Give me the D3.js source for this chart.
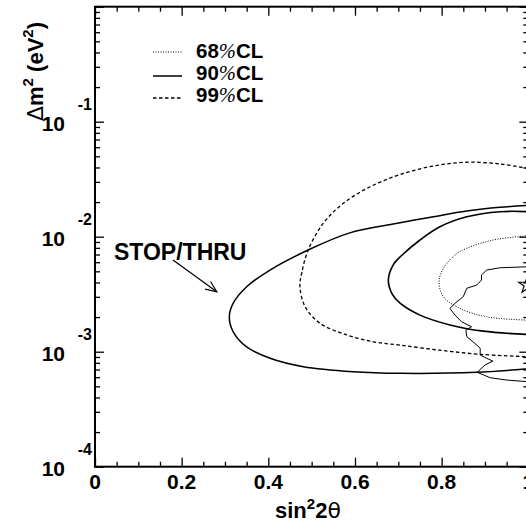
<!DOCTYPE html>
<html><head><meta charset="utf-8">
<script src="https://cdn.jsdelivr.net/npm/d3@7"></script>
<style>body{margin:0;background:#fff}svg{display:block}</style>
</head><body>
<script>
// ---- data (sin^2 2θ, Δm^2 [eV^2]) ----
const stopThru90 = [[1.0,1.87e-2],[0.935,1.80e-2],[0.858,1.67e-2],[0.781,1.49e-2],[0.704,1.32e-2],[0.588,1.08e-2],[0.492,7.66e-3],[0.404,5.13e-3],[0.350,3.67e-3],[0.319,2.64e-3],[0.310,2.01e-3],[0.319,1.49e-3],[0.350,1.10e-3],[0.404,8.77e-4],[0.481,7.41e-4],[0.596,6.70e-4],[0.704,6.49e-4],[0.881,6.62e-4],[0.992,7.07e-4],[1.0,7.1e-4]];
const cl99 = [[1.0,3.91e-2],[0.935,4.29e-2],[0.858,4.44e-2],[0.781,4.12e-2],[0.704,3.47e-2],[0.635,2.72e-2],[0.573,1.95e-2],[0.527,1.31e-2],[0.492,7.66e-3],[0.477,4.81e-3],[0.473,3.67e-3],[0.485,2.46e-3],[0.519,1.77e-3],[0.581,1.40e-3],[0.642,1.22e-3],[0.704,1.14e-3],[0.796,1.03e-3],[0.889,9.49e-4],[0.992,9.05e-4],[1.0,9.0e-4]];
const cl90 = [[1.0,1.65e-2],[0.935,1.65e-2],[0.858,1.49e-2],[0.796,1.22e-2],[0.750,9.36e-3],[0.709,6.93e-3],[0.688,5.67e-3],[0.677,4.20e-3],[0.685,3.22e-3],[0.704,2.64e-3],[0.750,2.08e-3],[0.819,1.71e-3],[0.896,1.51e-3],[1.0,1.41e-3]];
const cl68 = [[1.0,1.02e-2],[0.919,9.36e-3],[0.858,7.93e-3],[0.831,6.93e-3],[0.804,5.31e-3],[0.794,4.06e-3],[0.804,3.01e-3],[0.842,2.38e-3],[0.904,2.01e-3],[1.0,1.88e-3]];
const jagged90 = [[1.0,5.48e-3],[0.935,5.37e-3],[0.904,5.13e-3],[0.892,4.65e-3],[0.892,4.20e-3],[0.881,3.80e-3],[0.858,3.56e-3],[0.850,3.01e-3],[0.831,2.64e-3],[0.819,2.38e-3],[0.831,2.08e-3],[0.846,1.82e-3],[0.869,1.65e-3],[0.856,1.54e-3],[0.858,1.35e-3],[0.877,1.18e-3],[0.889,1.07e-3],[0.889,9.35e-4],[0.904,8.77e-4],[0.918,8.30e-4],[0.900,7.66e-4],[0.882,6.62e-4],[0.912,5.94e-4],[0.950,5.67e-4],[1.0,5.48e-4]];
const bestFit = [1.0, 3.8e-3];
const arrowFrom = [0.180, 6.27e-3];
const arrowTo = [0.281, 3.32e-3];
const xTickLabels = ["0","0.2","0.4","0.6","0.8","1"];
const xMajor = [0,0.2,0.4,0.6,0.8,1.0];
const yMajor = [1e-4,1e-3,1e-2,1e-1,1];
const yMajorLabels = ["-4","-3","-2","-1"];
const legendItems = [{n:"68",dash:"1,1.5",w:1},{n:"90",dash:null,w:1.5},{n:"99",dash:"3.5,2.5",w:1.5}];

const W=526,H=524;
const svg=d3.select("body").append("svg").attr("width",W).attr("height",H);
const x=d3.scaleLinear().domain([0,1]).range([95,528.3]);
const y=d3.scaleLog().domain([1e-4,1]).range([466.7,6.7]);
const FONT="'Liberation Sans', Arial, Helvetica, sans-serif";

const xMinor=d3.range(0,1.0001,0.05).filter(v=>Math.abs(v*5-Math.round(v*5))>1e-6);
const yMinor=[];
for(let e=-4;e<0;e++) for(let k=2;k<=9;k++) yMinor.push(k*Math.pow(10,e));

function ticks(axisFn, scale, vals, size, tx, ty){
  const g=svg.append("g").attr("transform",`translate(${tx},${ty})`)
    .call(axisFn(scale).tickValues(vals).tickSize(size).tickFormat(""));
  g.select(".domain").remove();
  g.selectAll("line").attr("stroke","#000").attr("stroke-width",1.3);
}
ticks(d3.axisTop, x, xMajor, 9, 0, 466.7);
ticks(d3.axisTop, x, xMinor, 5, 0, 466.7);
ticks(d3.axisBottom, x, xMajor, 9, 0, 6.7);
ticks(d3.axisBottom, x, xMinor, 5, 0, 6.7);
ticks(d3.axisRight, y, yMajor, 9, 95, 0);
ticks(d3.axisRight, y, yMinor, 5, 95, 0);
ticks(d3.axisLeft, y, yMajor, 9, 528.3, 0);
ticks(d3.axisLeft, y, yMinor, 5, 528.3, 0);

svg.append("rect").attr("x",95).attr("y",6.7).attr("width",433.3).attr("height",460)
  .attr("fill","none").attr("stroke","#000").attr("stroke-width",2);

const line=d3.line().x(d=>x(d[0])).y(d=>y(d[1])).curve(d3.curveCatmullRom.alpha(0.5));
const lineLin=d3.line().x(d=>x(d[0])).y(d=>y(d[1]));
const plot=svg.append("g");
plot.append("path").attr("d",line(stopThru90)).attr("fill","none").attr("stroke","#000").attr("stroke-width",1.5);
plot.append("path").attr("d",line(cl99)).attr("fill","none").attr("stroke","#000").attr("stroke-width",1.3).attr("stroke-dasharray","3.5,2.5");
plot.append("path").attr("d",line(cl90)).attr("fill","none").attr("stroke","#000").attr("stroke-width",1.6);
plot.append("path").attr("d",line(cl68)).attr("fill","none").attr("stroke","#000").attr("stroke-width",1).attr("stroke-dasharray","1,1.5");
plot.append("path").attr("d",lineLin(jagged90)).attr("fill","none").attr("stroke","#000").attr("stroke-width",1);

const star=d3.symbol().type(d3.symbolStar).size(90);
plot.append("path").attr("d",star()).attr("transform",`translate(${x(bestFit[0])-1},${y(bestFit[1])})`)
  .attr("fill","none").attr("stroke","#000").attr("stroke-width",1.2);

const ax1=x(arrowFrom[0]),ay1=y(arrowFrom[1]),ax2=x(arrowTo[0]),ay2=y(arrowTo[1]);
plot.append("line").attr("x1",ax1).attr("y1",ay1).attr("x2",ax2).attr("y2",ay2).attr("stroke","#000").attr("stroke-width",1.2);
const ang=Math.atan2(ay2-ay1,ax2-ax1), hl=12, ha=0.4;
plot.append("path").attr("d",`M${ax2-hl*Math.cos(ang-ha)},${ay2-hl*Math.sin(ang-ha)}L${ax2},${ay2}L${ax2-hl*Math.cos(ang+ha)},${ay2-hl*Math.sin(ang+ha)}`)
  .attr("fill","none").attr("stroke","#000").attr("stroke-width",1.2);
svg.append("text").attr("x",114).attr("y",ay1).attr("font-family",FONT).attr("font-weight","bold").attr("font-size",23).text("STOP/THRU");

svg.selectAll(".xl").data(xMajor).enter().append("text").attr("x",d=>x(d)).attr("y",489)
  .attr("text-anchor","middle").attr("font-family",FONT).attr("font-weight","bold").attr("font-size",21)
  .text((d,i)=>xTickLabels[i]);
const yl=[1e-4,1e-3,1e-2,1e-1];
yl.forEach((v,i)=>{
  svg.append("text").attr("x",65).attr("y",y(v)+9).attr("text-anchor","end").attr("font-family",FONT).attr("font-weight","bold").attr("font-size",21).text("10");
  svg.append("text").attr("x",92).attr("y",y(v)-12).attr("text-anchor","end").attr("font-family",FONT).attr("font-weight","bold").attr("font-size",16).text(yMajorLabels[i]);
});

const xt=svg.append("text").attr("x",275).attr("y",518).attr("font-family",FONT).attr("font-weight","bold").attr("font-size",22);
xt.append("tspan").text("sin");
xt.append("tspan").attr("font-size",15).attr("dy",-9).text("2");
xt.append("tspan").attr("dy",9).text("2");
xt.append("tspan").attr("font-family","'DejaVu Sans', sans-serif").attr("font-weight","normal").text("θ");

const yt=svg.append("text").attr("transform","translate(43,121) rotate(-90)").attr("font-family",FONT).attr("font-weight","bold").attr("font-size",22);
yt.append("tspan").attr("font-family","'DejaVu Sans', sans-serif").attr("font-weight","normal").text("Δ");
yt.append("tspan").text("m");
yt.append("tspan").attr("font-size",15).attr("dy",-10).text("2");
yt.append("tspan").attr("dy",10).text(" (eV");
yt.append("tspan").attr("font-size",15).attr("dy",-10).text("2");
yt.append("tspan").attr("dy",10).text(")");

const ly=[52,76,98], lb=[58.3,80,101.7];
legendItems.forEach((d,i)=>{
  const l=svg.append("line").attr("x1",153).attr("x2",182).attr("y1",ly[i]).attr("y2",ly[i]).attr("stroke","#000").attr("stroke-width",d.w);
  if(d.dash) l.attr("stroke-dasharray",d.dash);
  const t=svg.append("text").attr("x",196).attr("y",lb[i]).attr("font-family",FONT).attr("font-weight","bold").attr("font-size",20.5);
  t.append("tspan").text(d.n);
  t.append("tspan").attr("font-family","'Liberation Serif', serif").attr("font-style","italic").attr("font-weight","normal").text("%");
  t.append("tspan").text("CL");
});
</script>
</body></html>
